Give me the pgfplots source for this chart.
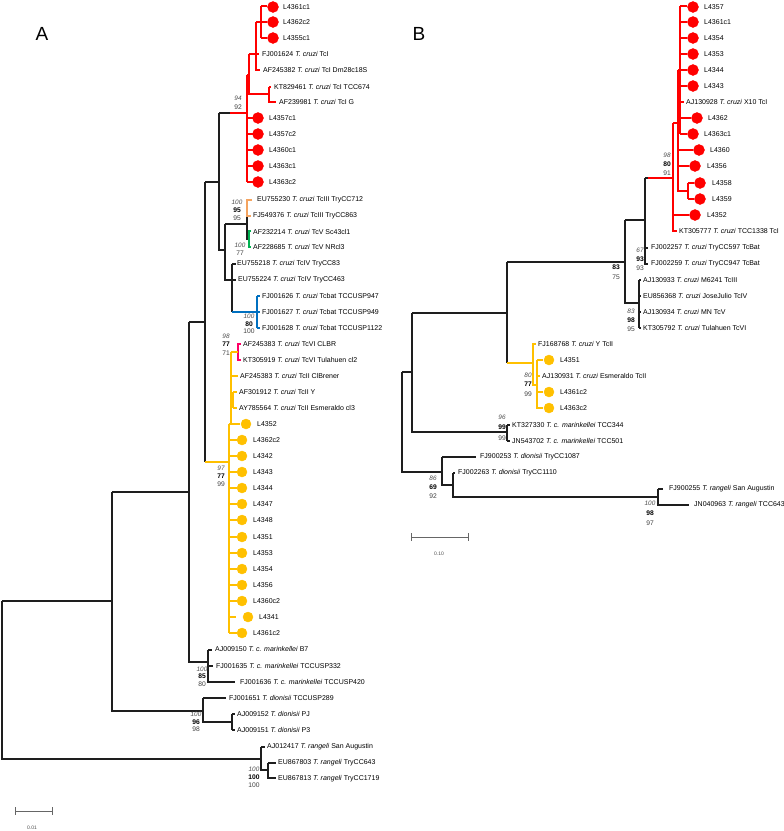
\documentclass[border=0pt]{standalone}
\usepackage{pgfplots}
\pgfplotsset{compat=1.18}
\usepackage{fontspec}
\setmainfont{Liberation Sans}
\definecolor{cred}{RGB}{255,0,0}
\definecolor{cyel}{RGB}{255,192,0}
\definecolor{corg}{RGB}{244,164,96}
\definecolor{cgrn}{RGB}{0,176,80}
\definecolor{cblu}{RGB}{0,112,192}
\definecolor{cpnk}{RGB}{255,0,102}
\definecolor{ctree}{RGB}{30,30,30}
\tikzset{
  lab/.style={anchor=west,inner sep=0pt,font=\fontsize{7.0}{8}\selectfont},
  bsi/.style={inner sep=0pt,font=\fontsize{6.4}{7}\selectfont\itshape,text=black!70},
  bsb/.style={inner sep=0pt,font=\fontsize{6.7}{7}\selectfont\bfseries},
  bsr/.style={inner sep=0pt,font=\fontsize{6.7}{7}\selectfont,text=black!75},
}
\newcommand{\tc}{\textit{T. cruzi}}
\newcommand{\tm}{\textit{T. c. marinkellei}}
\newcommand{\td}{\textit{T. dionisii}}
\newcommand{\tr}{\textit{T. rangeli}}
\begin{document}
\begin{tikzpicture}
\begin{axis}[name=ax,
  width=784pt, height=831pt, scale only axis,
  xmin=0, xmax=784, ymin=0, ymax=831, y dir=reverse,
  hide axis, clip=false, unbounded coords=jump]

% ---------------- Panel A: black branches
\addplot[ctree, line width=1.2pt] coordinates {
(2,601) (2,759) (261,759) (nan,nan)
(2,601) (112,601) (nan,nan)
(112,492) (112,711) (203,711) (nan,nan)
(112,492) (189,492) (nan,nan)
(189,322) (189,662) (208,662) (nan,nan)
(189,322) (205,322) (nan,nan)
(205,182) (205,462) (nan,nan)
(205,182) (219,182) (nan,nan)
(219,113) (219,250) (225,250) (nan,nan)
(219,113) (230,113) (nan,nan)
(225,224) (225,280) (232,280) (nan,nan)
(225,224) (247,224) (nan,nan)
(247,208) (247,239) (249,239) (nan,nan)
(232,264) (232,312) (nan,nan)
(232,264) (236,264) (nan,nan)
(232,280) (236,280) (nan,nan)
(208,650) (208,682) (235,682) (nan,nan)
(208,650) (212,650) (nan,nan)
(208,666) (213,666) (nan,nan)
(203,698) (203,722) (232,722) (nan,nan)
(203,698) (226,698) (nan,nan)
(232,714) (232,730) (nan,nan)
(232,714) (235,714) (nan,nan)
(232,730) (235,730) (nan,nan)
(261,747) (261,770) (268,770) (nan,nan)
(261,747) (265,747) (nan,nan)
(268,763) (268,778) (276,778) (nan,nan)
(268,763) (276,763)
};
% red TcI clade A
\addplot[cred, line width=1.2pt] coordinates {
(230,113) (247,113) (nan,nan)
(247,75) (247,182) (nan,nan)
(247,118) (253,118) (nan,nan)
(247,134) (253,134) (nan,nan)
(247,150) (253,150) (nan,nan)
(247,166) (253,166) (nan,nan)
(247,182) (253,182) (nan,nan)
(247,75) (249,75) (nan,nan)
(249,54) (249,94) (269,94) (nan,nan)
(249,54) (259,54) (nan,nan)
(256,22) (256,70) (260,70) (nan,nan)
(256,22) (261,22) (nan,nan)
(261,6) (261,38) (nan,nan)
(261,6) (267,6) (nan,nan)
(261,22) (267,22) (nan,nan)
(261,38) (267,38) (nan,nan)
(269,87) (269,102) (276,102) (nan,nan)
(269,87) (271,87)
};
% orange TcIII
\addplot[corg, line width=1.2pt] coordinates {
(252,200) (247,200) (247,216) (251,216)
};
% green TcV
\addplot[cgrn, line width=1.2pt] coordinates {
(251,231) (249,231) (249,247) (251,247)
};
% blue Tcbat
\addplot[cblu, line width=1.2pt] coordinates {
(232,312) (257,312) (260,312) (nan,nan)
(257,296) (257,328) (nan,nan)
(257,296) (260,296) (nan,nan)
(257,328) (260,328)
};
% pink TcVI
\addplot[cpnk, line width=1.2pt] coordinates {
(241,344) (238,344) (238,360) (241,360)
};
% yellow TcII clade A
\addplot[cyel, line width=1.2pt] coordinates {
(205,462) (229,462) (nan,nan)
(231,352) (231,424) (nan,nan)
(229,424) (229,633) (nan,nan)
(229,424) (240,424) (nan,nan)
(231,352) (238,352) (nan,nan)
(231,376) (238,376) (nan,nan)
(231,400) (233,400) (nan,nan)
(233,392) (233,408) (nan,nan)
(233,392) (237,392) (nan,nan)
(233,408) (237,408) (nan,nan)
(229,440) (237,440) (nan,nan)
(229,456) (237,456) (nan,nan)
(229,472) (237,472) (nan,nan)
(229,488) (237,488) (nan,nan)
(229,504) (237,504) (nan,nan)
(229,520) (237,520) (nan,nan)
(229,537) (237,537) (nan,nan)
(229,553) (237,553) (nan,nan)
(229,569) (237,569) (nan,nan)
(229,585) (237,585) (nan,nan)
(229,601) (237,601) (nan,nan)
(229,617) (236,617) (nan,nan)
(229,633) (237,633)
};
% circles A
\addplot[only marks, mark=*, mark size=5.5pt, cred, mark options={draw=cred,fill=cred}] coordinates {
(273,7) (273,22) (273,38) (258,118) (258,134) (258,150) (258,166) (258,182)
};
\addplot[only marks, mark=*, mark size=5pt, cyel, mark options={draw=cyel,fill=cyel}] coordinates {
(246,424) (242,440) (242,456) (242,472) (242,488) (242,504) (242,520) (242,537)
(242,553) (242,569) (242,585) (242,601) (248,617) (242,633)
};
% scale bar A
\addplot[black!60, line width=0.8pt] coordinates {
(15,807) (15,815) (nan,nan) (15,811) (52,811) (nan,nan) (52,807) (52,815)
};

% ---------------- Panel B: black branches
\addplot[ctree, line width=1.2pt] coordinates {
(402,372) (402,472) (442,472) (nan,nan)
(402,372) (412,372) (nan,nan)
(412,313) (412,432) (507,432) (nan,nan)
(412,313) (507,313) (nan,nan)
(507,425) (507,441) (nan,nan)
(507,425) (510,425) (nan,nan)
(507,441) (510,441) (nan,nan)
(507,262) (507,363) (nan,nan)
(507,262) (625,262) (nan,nan)
(625,220) (625,303) (639,303) (nan,nan)
(625,220) (645,220) (nan,nan)
(645,178) (645,264) (648,264) (nan,nan)
(645,248) (648,248) (nan,nan)
(645,178) (648,178) (nan,nan)
(639,280) (639,328) (nan,nan)
(639,280) (641,280) (nan,nan)
(639,296) (641,296) (nan,nan)
(639,312) (641,312) (nan,nan)
(639,328) (641,328) (nan,nan)
(442,457) (442,485) (453,485) (nan,nan)
(442,457) (476,457) (nan,nan)
(453,473) (453,497) (658,497) (nan,nan)
(453,473) (455,473) (nan,nan)
(658,489) (658,505) (689,505) (nan,nan)
(658,489) (663,489)
};
% red clade B
\addplot[cred, line width=1.2pt] coordinates {
(648,178) (673,178) (nan,nan)
(673,123) (673,231) (677,231) (nan,nan)
(673,123) (678,123) (nan,nan)
(673,215) (689,215) (nan,nan)
(678,70) (678,191) (688,191) (nan,nan)
(678,150) (693,150) (nan,nan)
(678,166) (689,166) (nan,nan)
(688,183) (688,199) (nan,nan)
(688,183) (694,183) (nan,nan)
(688,199) (694,199) (nan,nan)
(678,70) (680,70) (nan,nan)
(680,6) (680,134) (nan,nan)
(680,6) (687,6) (nan,nan)
(680,22) (687,22) (nan,nan)
(680,38) (687,38) (nan,nan)
(680,54) (687,54) (nan,nan)
(680,70) (687,70) (nan,nan)
(680,86) (687,86) (nan,nan)
(680,102) (684,102) (nan,nan)
(680,118) (691,118) (nan,nan)
(680,134) (687,134)
};
% yellow clade B
\addplot[cyel, line width=1.2pt] coordinates {
(507,363) (533,363) (nan,nan)
(536,344) (533,344) (533,385) (537,385) (nan,nan)
(537,360) (537,409) (nan,nan)
(537,360) (543,360) (nan,nan)
(537,376) (540,376) (nan,nan)
(537,392) (543,392) (nan,nan)
(537,408) (543,408)
};
\addplot[only marks, mark=*, mark size=5.5pt, cred, mark options={draw=cred,fill=cred}] coordinates {
(693,7) (693,22) (693,38) (693,54) (693,70) (693,86) (697,118) (693,134)
(699,150) (695,166) (700,183) (700,199) (695,215)
};
\addplot[only marks, mark=*, mark size=5pt, cyel, mark options={draw=cyel,fill=cyel}] coordinates {
(549,360) (549,392) (549,408)
};
% scale bar B
\addplot[black!60, line width=0.8pt] coordinates {
(411,533) (411,541) (nan,nan) (411,537) (468,537) (nan,nan) (468,533) (468,541)
};

% ---------------- labels A
\node[anchor=center,font=\fontsize{19}{20}\selectfont] at (axis cs:42,34) {A};
\node[anchor=center,font=\fontsize{19}{20}\selectfont] at (axis cs:419,34) {B};
\node[font=\fontsize{5}{6}\selectfont,text=black!70] at (axis cs:32,828) {0.01};
\node[font=\fontsize{5}{6}\selectfont,text=black!70] at (axis cs:439,554) {0.10};

\node[lab] at (axis cs:283,7) {L4361c1};
\node[lab] at (axis cs:283,22) {L4362c2};
\node[lab] at (axis cs:283,38) {L4355c1};
\node[lab] at (axis cs:262,54) {FJ001624 \tc{} TcI};
\node[lab] at (axis cs:263,70) {AF245382 \tc{} TcI Dm28c18S};
\node[lab] at (axis cs:274,87) {KT829461 \tc{} TcI TCC674};
\node[lab] at (axis cs:279,102) {AF239981 \tc{} TcI G};
\node[lab] at (axis cs:269,118) {L4357c1};
\node[lab] at (axis cs:269,134) {L4357c2};
\node[lab] at (axis cs:269,150) {L4360c1};
\node[lab] at (axis cs:269,166) {L4363c1};
\node[lab] at (axis cs:269,182) {L4363c2};
\node[lab] at (axis cs:257,200) {EU755230 \tc{} TcIII TryCC712};
\node[lab] at (axis cs:253,216) {FJ549376 \tc{} TcIII TryCC863};
\node[lab] at (axis cs:253,232) {AF232214 \tc{} TcV Sc43cl1};
\node[lab] at (axis cs:253,247) {AF228685 \tc{} TcV NRcl3};
\node[lab] at (axis cs:237,264) {EU755218 \tc{} TcIV TryCC83};
\node[lab] at (axis cs:238,280) {EU755224 \tc{} TcIV TryCC463};
\node[lab] at (axis cs:262,296) {FJ001626 \tc{} Tcbat TCCUSP947};
\node[lab] at (axis cs:262,312) {FJ001627 \tc{} Tcbat TCCUSP949};
\node[lab] at (axis cs:262,328) {FJ001628 \tc{} Tcbat TCCUSP1122};
\node[lab] at (axis cs:243,344) {AF245383 \tc{} TcVI CLBR};
\node[lab] at (axis cs:243,360) {KT305919 \tc{} TcVI Tulahuen cl2};
\node[lab] at (axis cs:240,376) {AF245383 \tc{} TcII ClBrener};
\node[lab] at (axis cs:239,392) {AF301912 \tc{} TcII Y};
\node[lab] at (axis cs:239,408) {AY785564 \tc{} TcII Esmeraldo cl3};
\node[lab] at (axis cs:257,424) {L4352};
\node[lab] at (axis cs:253,440) {L4362c2};
\node[lab] at (axis cs:253,456) {L4342};
\node[lab] at (axis cs:253,472) {L4343};
\node[lab] at (axis cs:253,488) {L4344};
\node[lab] at (axis cs:253,504) {L4347};
\node[lab] at (axis cs:253,520) {L4348};
\node[lab] at (axis cs:253,537) {L4351};
\node[lab] at (axis cs:253,553) {L4353};
\node[lab] at (axis cs:253,569) {L4354};
\node[lab] at (axis cs:253,585) {L4356};
\node[lab] at (axis cs:253,601) {L4360c2};
\node[lab] at (axis cs:259,617) {L4341};
\node[lab] at (axis cs:253,633) {L4361c2};
\node[lab] at (axis cs:215,649) {AJ009150 \tm{} B7};
\node[lab] at (axis cs:216,666) {FJ001635 \tm{} TCCUSP332};
\node[lab] at (axis cs:240,682) {FJ001636 \tm{} TCCUSP420};
\node[lab] at (axis cs:229,698) {FJ001651 \td{} TCCUSP289};
\node[lab] at (axis cs:237,714) {AJ009152 \td{} PJ};
\node[lab] at (axis cs:237,730) {AJ009151 \td{} P3};
\node[lab] at (axis cs:267,747) {AJ012417 \tr{} San Augustin};
\node[lab] at (axis cs:278,763) {EU867803 \tr{} TryCC643};
\node[lab] at (axis cs:278,779) {EU867813 \tr{} TryCC1719};

% bootstrap A
\node[bsi] at (axis cs:238,98) {94};
\node[bsr] at (axis cs:238,107) {92};
\node[bsi] at (axis cs:237,202) {100};
\node[bsb] at (axis cs:237,210) {95};
\node[bsr] at (axis cs:237,218) {95};
\node[bsi] at (axis cs:240,245) {100};
\node[bsr] at (axis cs:240,253) {77};
\node[bsi] at (axis cs:249,316) {100};
\node[bsb] at (axis cs:249,324) {80};
\node[bsr] at (axis cs:249,331) {100};
\node[bsi] at (axis cs:226,336) {98};
\node[bsb] at (axis cs:226,344) {77};
\node[bsr] at (axis cs:226,353) {71};
\node[bsi] at (axis cs:221,468) {97};
\node[bsb] at (axis cs:221,476) {77};
\node[bsr] at (axis cs:221,484) {99};
\node[bsi] at (axis cs:202,669) {100};
\node[bsb] at (axis cs:202,676) {85};
\node[bsr] at (axis cs:202,684) {80};
\node[bsi] at (axis cs:196,714) {100};
\node[bsb] at (axis cs:196,722) {96};
\node[bsr] at (axis cs:196,729) {98};
\node[bsi] at (axis cs:254,769) {100};
\node[bsb] at (axis cs:254,777) {100};
\node[bsr] at (axis cs:254,785) {100};

% ---------------- labels B
\node[lab] at (axis cs:704,7) {L4357};
\node[lab] at (axis cs:704,22) {L4361c1};
\node[lab] at (axis cs:704,38) {L4354};
\node[lab] at (axis cs:704,54) {L4353};
\node[lab] at (axis cs:704,70) {L4344};
\node[lab] at (axis cs:704,86) {L4343};
\node[lab] at (axis cs:686,102) {AJ130928 \tc{} X10 TcI};
\node[lab] at (axis cs:708,118) {L4362};
\node[lab] at (axis cs:704,134) {L4363c1};
\node[lab] at (axis cs:710,150) {L4360};
\node[lab] at (axis cs:707,166) {L4356};
\node[lab] at (axis cs:712,183) {L4358};
\node[lab] at (axis cs:712,199) {L4359};
\node[lab] at (axis cs:707,215) {L4352};
\node[lab] at (axis cs:679,231) {KT305777 \tc{} TCC1338 TcI};
\node[lab] at (axis cs:651,248) {FJ002257 \tc{} TryCC597 TcBat};
\node[lab] at (axis cs:651,264) {FJ002259 \tc{} TryCC947 TcBat};
\node[lab] at (axis cs:643,280) {AJ130933 \tc{} M6241 TcIII};
\node[lab] at (axis cs:643,296) {EU856368 \tc{} JoseJulio TcIV};
\node[lab] at (axis cs:643,312) {AJ130934 \tc{} MN TcV};
\node[lab] at (axis cs:643,328) {KT305792 \tc{} Tulahuen TcVI};
\node[lab] at (axis cs:538,344) {FJ168768 \tc{} Y TcII};
\node[lab] at (axis cs:560,360) {L4351};
\node[lab] at (axis cs:542,376) {AJ130931 \tc{} Esmeraldo TcII};
\node[lab] at (axis cs:560,392) {L4361c2};
\node[lab] at (axis cs:560,408) {L4363c2};
\node[lab] at (axis cs:512,425) {KT327330 \tm{} TCC344};
\node[lab] at (axis cs:512,441) {JN543702 \tm{} TCC501};
\node[lab] at (axis cs:480,457) {FJ900253 \td{} TryCC1087};
\node[lab] at (axis cs:458,473) {FJ002263 \td{} TryCC1110};
\node[lab] at (axis cs:669,489) {FJ900255 \tr{} San Augustin};
\node[lab] at (axis cs:694,505) {JN040963 \tr{} TCC643};

% bootstrap B
\node[bsi] at (axis cs:667,155) {98};
\node[bsb] at (axis cs:667,164) {80};
\node[bsr] at (axis cs:667,173) {91};
\node[bsi] at (axis cs:640,250) {67};
\node[bsb] at (axis cs:640,259) {93};
\node[bsr] at (axis cs:640,268) {93};
\node[bsb] at (axis cs:616,267) {83};
\node[bsr] at (axis cs:616,277) {75};
\node[bsi] at (axis cs:631,311) {83};
\node[bsb] at (axis cs:631,320) {98};
\node[bsr] at (axis cs:631,329) {95};
\node[bsi] at (axis cs:528,375) {80};
\node[bsb] at (axis cs:528,384) {77};
\node[bsr] at (axis cs:528,394) {99};
\node[bsi] at (axis cs:502,417) {96};
\node[bsb] at (axis cs:502,427) {99};
\node[bsr] at (axis cs:502,438) {99};
\node[bsi] at (axis cs:433,478) {86};
\node[bsb] at (axis cs:433,487) {69};
\node[bsr] at (axis cs:433,496) {92};
\node[bsi] at (axis cs:650,503) {100};
\node[bsb] at (axis cs:650,513) {98};
\node[bsr] at (axis cs:650,523) {97};
\end{axis}
\pgfresetboundingbox
\path (ax.south west) rectangle (ax.north east);
\end{tikzpicture}
\end{document}
